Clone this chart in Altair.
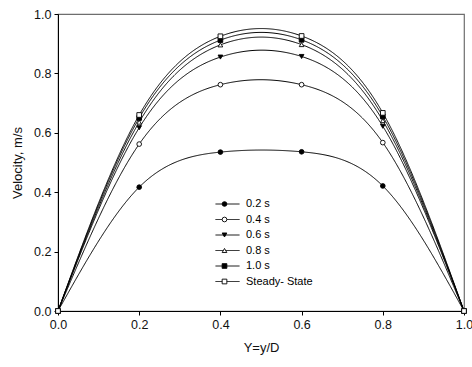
import altair as alt
import pandas as pd

xs = [0.0, 0.2, 0.4, 0.6, 0.8, 1.0]
series_names = ["0.2 s", "0.4 s", "0.6 s", "0.8 s", "1.0 s", "Steady- State"]
v02 = [0.0, 0.417, 0.535, 0.536, 0.421, 0.0]
v04 = [0.0, 0.562, 0.762, 0.762, 0.567, 0.0]
v06 = [0.0, 0.617, 0.855, 0.857, 0.622, 0.0]
v08 = [0.0, 0.636, 0.896, 0.897, 0.641, 0.0]
v10 = [0.0, 0.650, 0.912, 0.913, 0.655, 0.0]
vss = [0.0, 0.660, 0.925, 0.926, 0.667, 0.0]
shapes = ["circle", "circle", "triangle-down", "triangle-up", "square", "square"]
fills = ["black", "white", "black", "white", "black", "white"]
strokes = ["black"] * 6

line_keys = ["line " + n for n in series_names]

rows = []
for name, key, vals in zip(series_names, line_keys, [v02, v04, v06, v08, v10, vss]):
    for x, v in zip(xs, vals):
        rows.append({"x": x, "v": v, "series": name, "series_l": key})
df = pd.DataFrame(rows)

FONT = "Liberation Sans"
LX, LY = 157, 184

xenc = alt.X("x:Q", scale=alt.Scale(domain=[0, 1], nice=False),
             axis=alt.Axis(title="Y=y/D", values=[0, 0.2, 0.4, 0.6, 0.8, 1.0], format=".1f",
                           labelFlush=False, titlePadding=11))
yenc = alt.Y("v:Q", scale=alt.Scale(domain=[0, 1], nice=False),
             axis=alt.Axis(title="Velocity, m/s", values=[0, 0.2, 0.4, 0.6, 0.8, 1.0], format=".1f",
                           labelFlush=False, titlePadding=9))

lines = alt.Chart(df).mark_line(interpolate="natural", color="black", strokeWidth=1).encode(
    x=xenc, y=yenc,
    strokeDash=alt.StrokeDash("series_l:N",
        scale=alt.Scale(domain=line_keys, range=[[1, 0]] * 6),
        legend=alt.Legend(title=None, orient="none", legendX=LX, legendY=LY,
                          symbolType="stroke", symbolSize=576, symbolStrokeWidth=1,
                          symbolStrokeColor="black", labelOpacity=0, labelExpr="''", padding=0,
                          clipHeight=12, rowPadding=3.5, labelFontSize=11, labelFont=FONT)),
)

points = alt.Chart(df).mark_point(filled=False, strokeWidth=0.9, size=22, opacity=1).encode(
    x="x:Q", y="v:Q",
    shape=alt.Shape("series:N", scale=alt.Scale(domain=series_names, range=shapes),
        legend=alt.Legend(title=None, orient="none", legendX=LX, legendY=LY,
                          symbolSize=22, symbolStrokeColor="black", symbolStrokeWidth=0.9,
                          symbolOffset=4, labelOffset=16, padding=0, clipHeight=12, rowPadding=3.5,
                          labelFontSize=11, labelFont=FONT, labelColor="black")),
    fill=alt.Fill("series:N", scale=alt.Scale(domain=series_names, range=fills)),
    stroke=alt.Stroke("series:N", scale=alt.Scale(domain=series_names, range=strokes)),
)

chart = alt.layer(lines, points).properties(
    width=406, height=297,
    autosize=alt.AutoSizeParams(type="none"),
    padding={"left": 58, "top": 14, "right": 8, "bottom": 56},
).configure_view(stroke="#6e6e6e", strokeWidth=1.2).configure_axis(
    grid=False, domainColor="black", domainWidth=1, tickColor="black", tickSize=4,
    labelFont=FONT, labelFontSize=12.5, labelColor="#111", labelPadding=3,
    titleFont=FONT, titleFontSize=13, titleFontWeight="normal", titleColor="#111",
)

chart.save("out.html", embed_options={"renderer": "svg", "actions": False})
